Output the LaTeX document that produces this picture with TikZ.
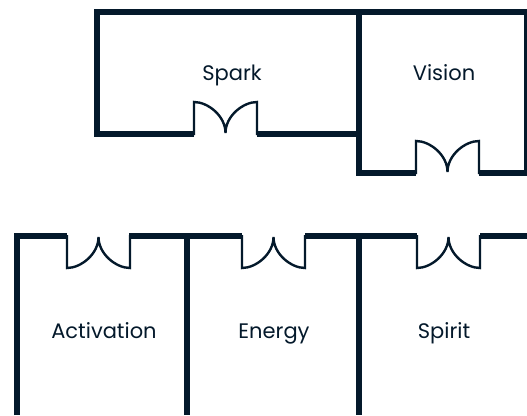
\documentclass[tikz,border=0pt]{standalone}
\usepackage{fontspec}
\setmainfont{Poppins}
\definecolor{ink}{HTML}{04192B}
\tikzset{
  wall/.style={draw=ink,line width=5.2pt,line cap=butt,line join=miter},
  doorline/.style={draw=ink,line width=2.4pt,line join=miter},
  room/.style={text=ink,font=\fontsize{21pt}{25pt}\selectfont,inner sep=0pt,anchor=base}
}
\newcommand{\doorup}[2]{%
  \draw[doorline] (#1,#2+1) -- (#1,#2-32)
    .. controls (#1+14,#2-32) and (#1+31.5,#2-18) .. (#1+31.5,#2-1)
    .. controls (#1+31.5,#2-18) and (#1+49,#2-32) .. (#1+63,#2-32) -- (#1+63,#2+1);}
\newcommand{\doordown}[2]{%
  \draw[doorline] (#1,#2-1) -- (#1,#2+32)
    .. controls (#1+14,#2+32) and (#1+31.5,#2+18) .. (#1+31.5,#2+1)
    .. controls (#1+31.5,#2+18) and (#1+49,#2+32) .. (#1+63,#2+32) -- (#1+63,#2-1);}
\begin{document}
\begin{tikzpicture}[x=1pt,y=-1pt]
\useasboundingbox (0,0) rectangle (527,415);
% upper block
\draw[wall] (194,134) -- (97,134) -- (97,12) -- (527,12) -- (527,173) -- (479,173);
\draw[wall] (257,134) -- (359,134);
\draw[wall] (359,12) -- (359,173) -- (416,173);
\doorup{194}{134}
\doorup{416}{173}
% lower block
\draw[wall] (17,415) -- (17,236) -- (67,236);
\draw[wall] (129,236) -- (242,236);
\draw[wall] (305,236) -- (417,236);
\draw[wall] (480,236) -- (527,236);
\draw[wall] (187,236) -- (187,415);
\draw[wall] (359,236) -- (359,415);
\doordown{67}{236}
\doordown{242}{236}
\doordown{417}{236}
% labels
\node[room] (spark) at (232,80) {Spark};
\node[room] (vision) at (444,80) {Vision};
\node[room] (activation) at (104,338) {Activation};
\node[room] (energy) at (274,338) {Energy};
\node[room] (spirit) at (444,338) {Spirit};
\end{tikzpicture}
\end{document}
